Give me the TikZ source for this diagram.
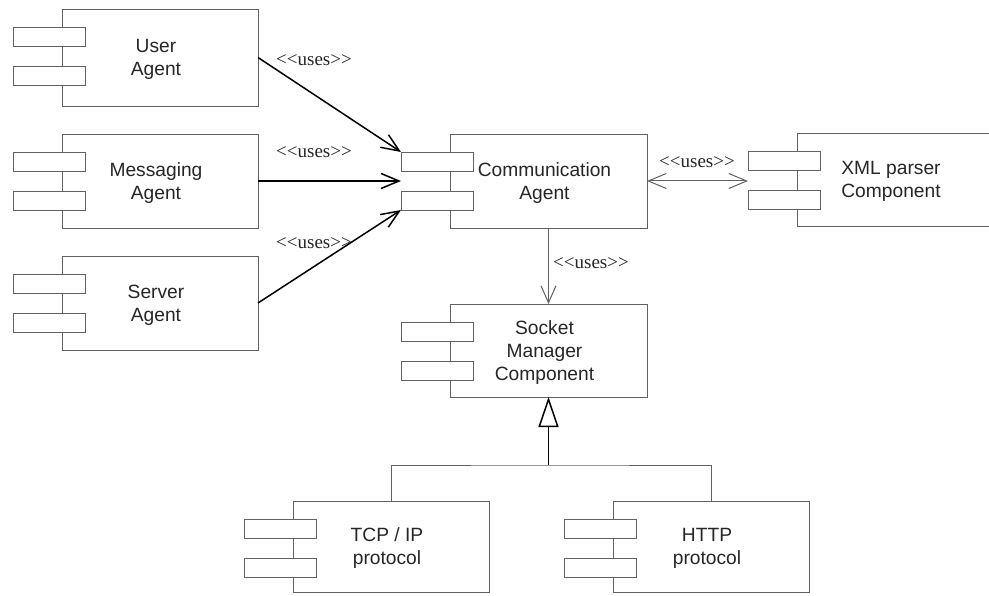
\documentclass[tikz,border=0pt]{standalone}
\usepackage{fontspec}
\newfontfamily\compfont{Liberation Sans}
\newfontfamily\lblfont{Liberation Serif}
\usetikzlibrary{arrows.meta}
\definecolor{boxgray}{gray}{0.38}
\tikzset{
  cbox/.style={draw=boxgray, line width=0.9pt, fill=white, inner sep=0pt, outer sep=0pt, rectangle},
  cport/.style={cbox, minimum width=72pt, minimum height=19pt},
  ctext/.style={font=\compfont\fontsize{19.2}{23}\selectfont, align=center, inner sep=0pt, text=black!85},
  lbl/.style={font=\lblfont\fontsize{19}{22}\selectfont, inner sep=0pt, text=black!85},
  usesarrow/.style={line width=1.5pt, black, -{Straight Barb[length=18pt,width=15pt]}},
  thinarrow/.style={line width=1pt, boxgray, {Straight Barb[length=18pt,width=15pt]}-{Straight Barb[length=18pt,width=15pt]}},
  downarrow/.style={line width=1pt, boxgray, -{Straight Barb[length=17pt,width=15pt]}},
  genarrow/.style={line width=1.5pt, black, -{Triangle[open, length=30pt, width=20pt, line width=1.5pt]}},
  branch/.style={line width=0.9pt, boxgray}
}
\newcommand\comp[6]{% name, left, top, width, height, text
  \node[cbox, minimum width=#4pt, minimum height=#5pt, anchor=north west] (#1) at (#2,#3) {};
  \node[cport, anchor=north west] (#1-p1) at ([xshift=-49pt,yshift=-18pt]#1.north west) {};
  \node[cport, anchor=north west] (#1-p2) at ([xshift=-49pt,yshift=-57pt]#1.north west) {};
  \node[ctext] (#1-t) at ([xshift=-4pt,yshift=-2pt]#1.center) {#6};
}
\begin{document}
\begin{tikzpicture}[x=1pt,y=-1pt]
\clip (0,0) rectangle (989,596);
\fill[white] (0,0) rectangle (989,596);
\comp{user}{62}{9}{196}{97}{User\\Agent}
\comp{msg}{62}{134}{196}{94}{Messaging\\Agent}
\comp{server}{62}{256}{196}{94}{Server\\Agent}
\comp{comm}{450}{134}{197}{94}{Communication\\Agent}
\comp{xml}{797}{133}{196}{93}{XML parser\\Component}
\comp{socket}{450}{304}{197}{93}{Socket\\Manager\\Component}
\comp{tcp}{293}{501}{196}{91}{TCP / IP\\protocol}
\comp{http}{613}{501}{196}{91}{HTTP\\protocol}

\draw[usesarrow] (user.east) -- (comm-p1.north west);
\draw[usesarrow] (msg.east) -- (msg.east -| comm-p1.west);
\draw[usesarrow] (server.east) -- (comm-p2.south west);
\draw[thinarrow] (comm.east) -- (comm.east -| xml-p1.west);
\draw[downarrow] (comm.south) -- (socket.north);

\coordinate (gen) at (socket.south |- 0,465);
\draw[genarrow] (gen) -- (socket.south);
\draw[branch] (tcp.north) |- (gen) -| (http.north);

\node[lbl] (l1) at (314,60) {<\kern0pt<uses>\kern0pt>};
\node[lbl] (l2) at (314,152) {<\kern0pt<uses>\kern0pt>};
\node[lbl] (l3) at (314,243) {<\kern0pt<uses>\kern0pt>};
\node[lbl] (l4) at (697,162) {<\kern0pt<uses>\kern0pt>};
\node[lbl, anchor=west] (l5) at (553,263) {<\kern0pt<uses>\kern0pt>};
\end{tikzpicture}
\end{document}
